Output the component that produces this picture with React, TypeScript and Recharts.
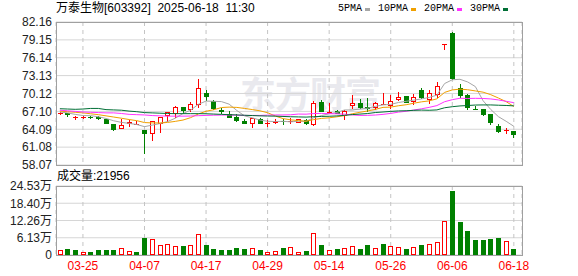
import React from 'react';
import { ComposedChart, Bar, Line, XAxis, YAxis, CartesianGrid } from 'recharts';

// trading days shown (index 0 = 03-20)
const dates = [
  '03-20', '03-21', '03-24', '03-25', '03-26', '03-27', '03-28', '03-31',
  '04-01', '04-02', '04-03', '04-07', '04-08', '04-09', '04-10', '04-11', '04-14', '04-15', '04-16', '04-17',
  '04-18', '04-21', '04-22', '04-23', '04-24', '04-25', '04-28', '04-29', '04-30',
  '05-06', '05-07', '05-08', '05-09', '05-12', '05-13', '05-14', '05-15', '05-16', '05-19', '05-20',
  '05-21', '05-22', '05-23', '05-26', '05-27', '05-28', '05-29', '05-30',
  '06-03', '06-04', '06-05', '06-06', '06-09', '06-10', '06-11', '06-12', '06-13', '06-16', '06-17', '06-18',
];
const tickDates = ['03-25', '04-07', '04-17', '04-29', '05-14', '05-26', '06-06', '06-18'];

const opens = [
  66.88, 66.78, 66.16, 66.16, 66.2, 66.15, 65.8, 65.0, 64.35, 65.15,
  65.0, 63.97, 63.4, 65.2, 66.55, 66.8, 67.8, 67.45, 68.35, 70.15,
  68.9, 67.35, 66.6, 66.15, 65.4, 65.1, 65.75, 65.2, 65.3, 65.55,
  65.5, 65.3, 65.65, 65.0, 68.7, 66.9, 67.15, 66.55, 68.1, 68.5,
  67.85, 67.9, 68.42, 68.25, 69.15, 69.7, 68.85, 70.7, 69.2, 70.05,
  78.5, 80.36, 71.1, 69.9, 67.55, 67.5, 66.6, 64.7, 63.9, 63.8,
];
const highs = [
  67.0, 66.85, 66.3, 66.3, 66.35, 66.4, 65.82, 65.02, 65.77, 65.65,
  65.4, 64.0, 65.55, 66.2, 67.05, 68.0, 67.82, 68.6, 72.56, 70.7,
  68.95, 67.6, 67.1, 66.65, 65.8, 66.0, 65.95, 65.6, 65.9, 65.8,
  65.95, 65.8, 65.9, 68.85, 69.0, 68.45, 67.3, 67.3, 69.85, 69.15,
  69.3, 68.6, 70.15, 69.8, 70.3, 69.75, 70.0, 71.0, 70.65, 72.1,
  78.5, 80.4, 71.7, 70.0, 68.05, 67.55, 66.65, 64.9, 64.3, 63.85,
];
const lows = [
  66.7, 66.27, 65.9, 65.95, 66.0, 65.9, 65.2, 63.97, 64.3, 64.65,
  64.9, 60.1, 62.2, 63.7, 65.5, 66.2, 66.9, 67.15, 67.9, 69.0,
  67.5, 66.9, 66.2, 65.4, 65.2, 64.4, 65.2, 64.7, 65.2, 64.9,
  65.1, 65.3, 64.9, 64.8, 67.2, 66.8, 66.85, 65.8, 67.6, 67.6,
  67.2, 67.5, 68.3, 67.6, 69.1, 68.7, 68.3, 69.3, 68.5, 69.6,
  77.6, 72.6, 69.6, 67.45, 67.5, 66.45, 64.9, 63.6, 63.5, 62.75,
];
const closes = [
  66.88, 66.62, 66.16, 66.16, 66.1, 65.95, 65.2, 64.2, 64.8, 65.25,
  65.0, 63.4, 65.5, 66.1, 66.95, 67.8, 67.35, 68.35, 71.0, 69.7,
  67.6, 67.1, 66.2, 65.65, 65.2, 65.95, 65.2, 65.2, 65.4, 65.4,
  65.5, 65.75, 65.1, 68.45, 67.2, 67.0, 66.9, 67.15, 68.5, 67.9,
  67.75, 68.45, 68.42, 68.9, 69.45, 68.75, 69.45, 69.45, 70.15, 71.4,
  78.5, 72.67, 69.85, 67.9, 67.5, 66.6, 65.25, 63.8, 64.0, 63.3,
];
// 成交量, 万
const volumes = [
  1.66, 2.13, 1.78, 0.95, 1.07, 1.78, 1.78, 1.78, 2.37, 1.3,
  1.07, 6.04, 5.69, 3.55, 3.91, 3.2, 3.2, 3.55, 7.35, 3.55,
  2.13, 1.78, 1.78, 2.49, 2.13, 2.37, 1.78, 0.95, 1.3, 2.49,
  2.84, 1.18, 1.42, 7.7, 3.55, 1.66, 2.13, 2.37, 3.08, 2.13,
  3.55, 2.49, 3.91, 3.08, 2.84, 2.13, 2.84, 3.55, 3.91, 4.62,
  12.09, 22.87, 11.73, 8.53, 5.33, 5.33, 5.69, 6.04, 4.98, 2.2,
];
const ma5 = [
  67.0, 66.85, 66.6, 66.4, 66.38, 66.2, 65.91, 65.52, 65.25, 65.08,
  64.89, 64.53, 64.79, 65.05, 65.39, 65.95, 66.74, 67.31, 68.29, 68.84,
  68.8, 68.75, 68.32, 67.25, 66.35, 66.02, 65.64, 65.44, 65.39, 65.43,
  65.34, 65.45, 65.43, 66.04, 66.4, 66.7, 66.93, 67.34, 67.35, 67.49,
  67.64, 67.95, 68.2, 68.28, 68.6, 68.8, 69.0, 69.2, 69.45, 69.84,
  71.79, 72.43, 72.51, 72.06, 71.28, 68.9, 67.42, 66.21, 65.43, 64.59,
];
const ma10 = [
  67.15, 67.05, 66.95, 66.85, 66.7, 66.55, 66.35, 66.15, 65.95, 65.73,
  65.54, 65.22, 65.16, 65.15, 65.24, 65.42, 65.64, 66.05, 66.67, 67.12,
  67.38, 67.75, 67.82, 67.77, 67.6, 67.41, 67.2, 66.88, 66.32, 65.89,
  65.68, 65.55, 65.44, 65.72, 65.92, 66.02, 66.19, 66.39, 66.7, 66.95,
  67.17, 67.44, 67.78, 67.82, 68.05, 68.22, 68.48, 68.71, 68.87, 69.22,
  70.3, 70.72, 70.85, 70.75, 70.55, 70.34, 69.92, 69.35, 68.74, 67.93,
];
const ma20 = [
  67.3, 67.2, 67.1, 67.0, 66.95, 66.9, 66.85, 66.85, 66.75, 66.6,
  66.55, 66.5, 66.4, 66.35, 66.3, 66.3, 66.3, 66.32, 66.38, 66.42,
  66.46, 66.48, 66.49, 66.46, 66.42, 66.42, 66.42, 66.47, 66.5, 66.5,
  66.53, 66.65, 66.63, 66.74, 66.76, 66.72, 66.69, 66.63, 66.51, 66.42,
  66.43, 66.49, 66.6, 66.76, 66.98, 67.12, 67.33, 67.54, 67.78, 68.08,
  68.73, 69.07, 69.31, 69.28, 69.3, 69.28, 69.2, 69.03, 68.8, 68.57,
];
const ma30 = [
  67.55, 67.5, 67.45, 67.5, 67.6, 67.6, 67.4, 67.35, 67.3, 67.15,
  67.05, 66.9, 66.85, 66.8, 66.75, 66.72, 66.72, 66.72, 66.72, 66.7,
  66.65, 66.6, 66.55, 66.5, 66.45, 66.4, 66.35, 66.32, 66.3, 66.25,
  66.2, 66.17, 66.14, 66.21, 66.25, 66.28, 66.34, 66.44, 66.56, 66.65,
  66.74, 66.91, 67.0, 67.1, 67.18, 67.21, 67.28, 67.32, 67.29, 67.35,
  67.71, 67.89, 68.02, 68.09, 68.17, 68.19, 68.19, 68.14, 68.1, 68.03,
];
const priceTicks = [58.07, 61.08, 64.09, 67.1, 70.12, 73.13, 76.14, 79.15, 82.16];
const volTicks = [0, 6.13, 12.26, 18.4, 24.53];

const RED = '#ff0000';
const GREEN = '#008000';
const FONT = "'Liberation Sans', Arial, 'Noto Sans CJK SC', sans-serif";

const legend = [
  { name: '5PMA', color: '#a6a6a6', key: 'ma5' },
  { name: '10PMA', color: '#f0a000', key: 'ma10' },
  { name: '20PMA', color: '#ff33ff', key: 'ma20' },
  { name: '30PMA', color: '#006f35', key: 'ma30' },
];

const data = dates.map((d, i) => {
  const o = opens[i];
  const c = closes[i];
  const prev = i > 0 ? closes[i - 1] : c;
  return {
    i,
    date: d,
    open: o,
    close: c,
    high: highs[i],
    low: lows[i],
    range: [lows[i], highs[i]],
    vol: volumes[i],
    volUp: c > o || (c === o && c >= prev),
    ma5: ma5[i],
    ma10: ma10[i],
    ma20: ma20[i],
    ma30: ma30[i],
  };
});
const xTicks = tickDates.map((t) => dates.indexOf(t));
const xDomain: [number, number] = [-0.5, 60.06];

const Candle = (props: any) => {
  const { x, y, width, height, payload } = props;
  if (x == null || !payload) return null;
  const { open, close, high, low } = payload;
  const top = Math.min(y, y + height);
  const bot = Math.max(y, y + height);
  const ppu = high > low ? (bot - top) / (high - low) : 0;
  const py = (v: number) => top + (high - v) * ppu;
  const cx = Math.round(x + width / 2);
  const up = close >= open;
  const color = up ? RED : GREEN;
  const bTop = Math.round(py(Math.max(open, close)));
  const bBot = Math.round(py(Math.min(open, close)));
  return (
    <g>
      <line x1={cx + 0.5} x2={cx + 0.5} y1={Math.round(top)} y2={Math.round(bot) + 1} stroke={color} strokeWidth={1} />
      {bBot - bTop < 1 ? (
        <line x1={cx - 2} x2={cx + 3} y1={bTop + 0.5} y2={bTop + 0.5} stroke={color} strokeWidth={1} />
      ) : up ? (
        <rect x={cx - 1.5} y={bTop + 0.5} width={4} height={bBot - bTop} fill="#fff" stroke={color} strokeWidth={1} />
      ) : (
        <rect x={cx - 2} y={bTop} width={5} height={bBot - bTop + 1} fill={color} />
      )}
    </g>
  );
};

const VolBar = (props: any) => {
  const { x, y, width, height, payload } = props;
  if (x == null || !payload) return null;
  const cx = Math.round(x + width / 2);
  const top = Math.round(Math.min(y, y + height));
  const bot = Math.round(Math.max(y, y + height));
  if (payload.volUp) {
    return <rect x={cx - 1.5} y={top + 0.5} width={4} height={Math.max(bot - top - 1, 0)} fill="#fff" stroke={RED} strokeWidth={1} />;
  }
  return <rect x={cx - 2} y={top} width={5} height={bot - top} fill={GREEN} />;
};

const box = (left: number, top: number, w: number, h: number): React.CSSProperties => ({
  position: 'absolute',
  left,
  top,
  width: w,
  height: h,
  boxSizing: 'border-box',
  border: '1px solid #a0a0a0',
  pointerEvents: 'none',
});

export default function App() {
  return (
    <div style={{ position: 'absolute', left: 0, top: 0, width: 578, height: 276, background: '#fff', fontFamily: FONT, overflow: 'hidden' }}>
      {/* watermark */}
      <div style={{ position: 'absolute', left: 240, top: 71, fontSize: 36, fontWeight: 'bold', color: '#e9e9ee', fontFamily: "'Noto Sans CJK SC', sans-serif", lineHeight: '42px', letterSpacing: -1 }}>
        东方财富
      </div>

      <div style={{ position: 'absolute', left: 56, top: 1, fontSize: 12, lineHeight: '15px', color: '#000', whiteSpace: 'pre' }}>
        万泰生物[603392]  2025-06-18  11:30
      </div>
      <div style={{ position: 'absolute', left: 338, top: 2, display: 'flex', alignItems: 'center', fontSize: 10, lineHeight: '14px', fontFamily: "'Liberation Mono', monospace", color: '#000' }}>
        {legend.map((l, k) => (
          <div key={l.name} style={{ display: 'flex', alignItems: 'center', marginLeft: k === 0 ? 0 : 8 }}>
            <span>{l.name}</span>
            <span style={{ display: 'inline-block', width: 5, height: 3, background: l.color, marginLeft: 3 }} />
          </div>
        ))}
      </div>

      <div style={{ position: 'absolute', left: 0, top: 0 }}>
        <ComposedChart width={578} height={176} data={data} margin={{ top: 22, right: 56, bottom: 11, left: 0 }}>
          <CartesianGrid horizontal vertical={false} stroke="#d6d6d6" />
          <CartesianGrid horizontal={false} vertical stroke="#c4c4c4" strokeDasharray="4 4" />
          <XAxis dataKey="i" type="number" domain={xDomain} ticks={xTicks} interval={0} hide allowDataOverflow />
          <YAxis
            domain={[58.07, 82.16]}
            ticks={priceTicks}
            interval={0}
            width={56}
            allowDataOverflow
            axisLine={false}
            tickLine={false}
            tickSize={0}
            tickMargin={4}
            tick={{ fontSize: 12, fill: '#222', fontFamily: FONT }}
            tickFormatter={(v: number) => v.toFixed(2)}
          />
          {legend.map((l) => (
            <Line key={l.key} dataKey={l.key} type="linear" stroke={l.color} strokeWidth={1} dot={false} activeDot={false} isAnimationActive={false} />
          ))}
          <Bar dataKey="range" barSize={5} shape={<Candle />} isAnimationActive={false} />
        </ComposedChart>
      </div>

      <div style={{ position: 'absolute', left: 57, top: 169, fontSize: 12, lineHeight: '15px', color: '#000' }}>成交量:21956</div>

      <div style={{ position: 'absolute', left: 0, top: 168 }}>
        <ComposedChart width={578} height={108} data={data} margin={{ top: 18, right: 56, bottom: 0, left: 0 }}>
          <CartesianGrid horizontal vertical={false} stroke="#d6d6d6" />
          <CartesianGrid horizontal={false} vertical stroke="#c4c4c4" strokeDasharray="4 4" />
          <XAxis
            dataKey="i"
            type="number"
            domain={xDomain}
            ticks={xTicks}
            interval={0}
            allowDataOverflow
            height={21}
            axisLine={false}
            tickLine={false}
            tickSize={0}
            tickMargin={6}
            tick={{ fontSize: 12, fill: RED, fontFamily: FONT }}
            tickFormatter={(v: number) => dates[v]}
          />
          <YAxis
            domain={[0, 24.53]}
            ticks={volTicks}
            interval={0}
            width={56}
            allowDataOverflow
            axisLine={false}
            tickLine={false}
            tickSize={0}
            tickMargin={4}
            tick={{ fontSize: 12, fill: '#222', fontFamily: FONT }}
            tickFormatter={(v: number) => (v === 0 ? '0' : v.toFixed(2) + '万')}
          />
          <Bar dataKey="vol" barSize={5} shape={<VolBar />} isAnimationActive={false} />
        </ComposedChart>
      </div>

      <div style={box(56, 22, 467, 144)} />
      <div style={box(56, 186, 467, 70)} />
    </div>
  );
}
